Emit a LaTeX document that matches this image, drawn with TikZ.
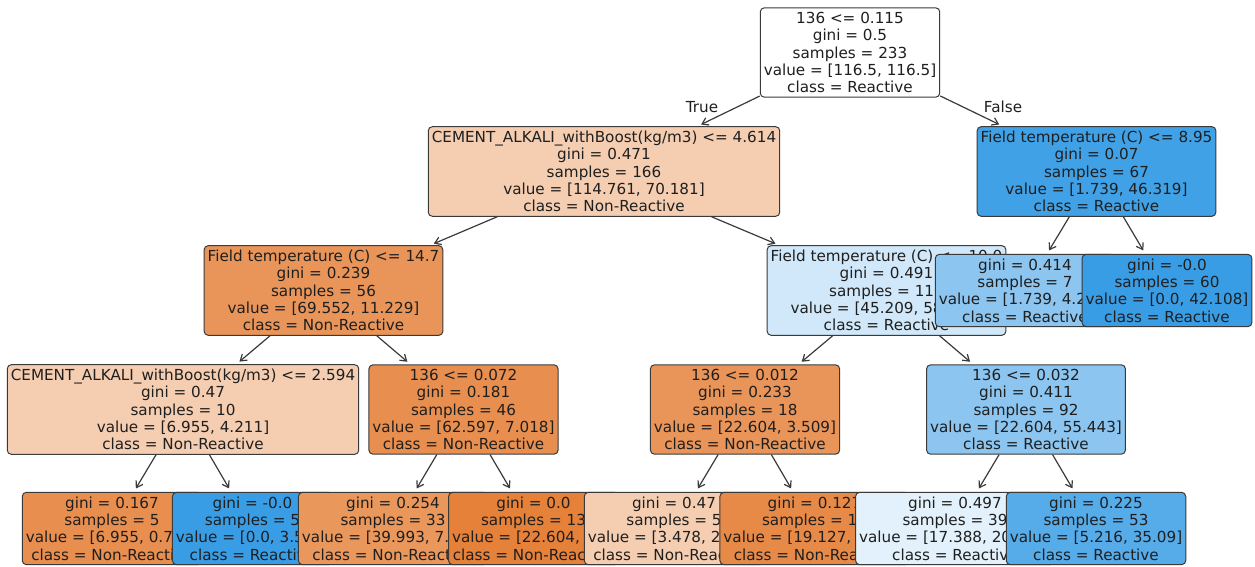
\documentclass[tikz,border=0pt]{standalone}
\usepackage{fontspec}
\setmainfont{DejaVu Sans}
\usepackage{tikz}
\usetikzlibrary{arrows.meta}

% node fills, orange = Non-Reactive, blue = Reactive
\definecolor{nrdeep}{HTML}{E58139}
\definecolor{nrhigh}{HTML}{E78A48}
\definecolor{nrmid}{HTML}{E88F4F}
\definecolor{nrsoft}{HTML}{E99559}
\definecolor{nrpale}{HTML}{EA975C}
\definecolor{nrlight}{HTML}{F5CEB2}
\definecolor{rdeep}{HTML}{399DE5}
\definecolor{rhigh}{HTML}{40A1E6}
\definecolor{rmid}{HTML}{56ABE9}
\definecolor{rsoft}{HTML}{8BC5F0}
\definecolor{rpale}{HTML}{D0E8F9}
\definecolor{rlight}{HTML}{E2F1FB}
\definecolor{rim}{HTML}{3A3A3A}

\begin{document}
\begin{tikzpicture}[x=1pt, y=-1pt,
    treebox/.style={draw=rim, line width=1pt, rounded corners=4pt,
      align=center, inner xsep=3.5pt, inner ysep=4.3pt, text=black!88,
      font=\fontsize{15.2pt}{17.3pt}\selectfont},
    link/.style={draw=rim, line width=1.2pt, shorten >=4pt,
      -{Straight Barb[length=6pt,width=8pt]}},
    side/.style={text=black!88, font=\fontsize{15.2pt}{17.3pt}\selectfont}
    ]

    \useasboundingbox (0,0) rectangle (1255,567);

    \node[treebox, fill=white] (n0) at (850, 52.5)
      {136 <= 0.115\\gini = 0.5\\samples = 233\\value = [116.5, 116.5]\\class = Reactive};

    \node[treebox, fill=nrlight] (n1) at (604, 171.5)
      {CEMENT\_ALKALI\_withBoost(kg/m3) <= 4.614\\gini = 0.471\\samples = 166\\value = [114.761, 70.181]\\class = Non-Reactive};

    \node[treebox, fill=nrsoft] (n2) at (323.5, 290.5)
      {Field temperature (C) <= 14.7\\gini = 0.239\\samples = 56\\value = [69.552, 11.229]\\class = Non-Reactive};

    \node[treebox, fill=nrlight] (n3) at (183, 409.5)
      {CEMENT\_ALKALI\_withBoost(kg/m3) <= 2.594\\gini = 0.47\\samples = 10\\value = [6.955, 4.211]\\class = Non-Reactive};
    \node[treebox, fill=nrmid] (l1) at (112, 528.5)
      {gini = 0.167\\samples = 5\\value = [6.955, 0.702]\\class = Non-Reactive};
    \node[treebox, fill=rdeep] (l2) at (252.5, 528.5)
      {gini = -0.0\\samples = 5\\value = [0.0, 3.509]\\class = Reactive};

    \node[treebox, fill=nrmid] (n4) at (463.5, 409.5)
      {136 <= 0.072\\gini = 0.181\\samples = 46\\value = [62.597, 7.018]\\class = Non-Reactive};
    \node[treebox, fill=nrpale] (l3) at (393, 528.5)
      {gini = 0.254\\samples = 33\\value = [39.993, 7.018]\\class = Non-Reactive};
    \node[treebox, fill=nrdeep] (l4) at (533.5, 528.5)
      {gini = 0.0\\samples = 13\\value = [22.604, 0.0]\\class = Non-Reactive};

    \node[treebox, fill=rpale] (n5) at (886.5, 290.5)
      {Field temperature (C) <= 10.0\\gini = 0.491\\samples = 110\\value = [45.209, 58.952]\\class = Reactive};

    \node[treebox, fill=nrsoft] (n6) at (745, 409.5)
      {136 <= 0.012\\gini = 0.233\\samples = 18\\value = [22.604, 3.509]\\class = Non-Reactive};
    \node[treebox, fill=nrlight] (l5) at (674, 528.5)
      {gini = 0.47\\samples = 5\\value = [3.478, 2.105]\\class = Non-Reactive};
    \node[treebox, fill=nrhigh] (l6) at (814.5, 528.5)
      {gini = 0.127\\samples = 13\\value = [19.127, 1.404]\\class = Non-Reactive};

    \node[treebox, fill=rsoft] (n7) at (1026, 409.5)
      {136 <= 0.032\\gini = 0.411\\samples = 92\\value = [22.604, 55.443]\\class = Reactive};
    \node[treebox, fill=rlight] (l7) at (955, 528.5)
      {gini = 0.497\\samples = 39\\value = [17.388, 20.352]\\class = Reactive};
    \node[treebox, fill=rmid] (l8) at (1096, 528.5)
      {gini = 0.225\\samples = 53\\value = [5.216, 35.09]\\class = Reactive};

    \node[treebox, fill=rhigh] (n8) at (1096.5, 171.5)
      {Field temperature (C) <= 8.95\\gini = 0.07\\samples = 67\\value = [1.739, 46.319]\\class = Reactive};
    \node[treebox, fill=rsoft] (l9) at (1025, 290.5)
      {gini = 0.414\\samples = 7\\value = [1.739, 4.211]\\class = Reactive};
    \node[treebox, fill=rdeep] (l10) at (1167, 290.5)
      {gini = -0.0\\samples = 60\\value = [0.0, 42.108]\\class = Reactive};

    % branches
    \foreach \a/\b in {n0/n1, n0/n8, n1/n2, n1/n5, n2/n3, n2/n4, n3/l1, n3/l2,
        n4/l3, n4/l4, n5/n6, n5/n7, n6/l5, n6/l6, n7/l7, n7/l8, n8/l9, n8/l10}
      \draw[link] (\a) -- (\b);

    \node[side] (yes) at (702, 107) {True};
    \node[side] (no) at (1003, 107) {False};

\end{tikzpicture}
\end{document}
